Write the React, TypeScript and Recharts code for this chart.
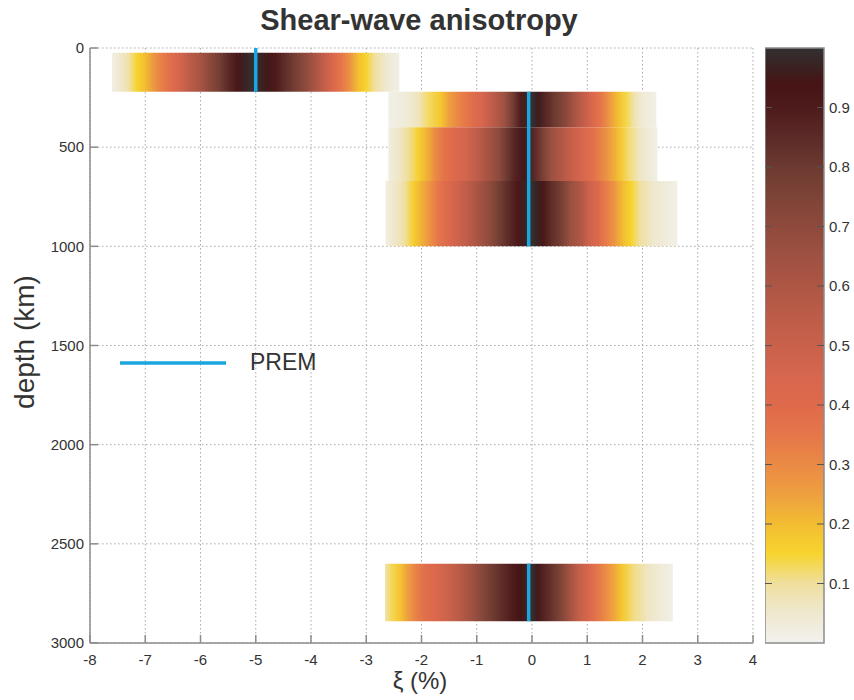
import { ComposedChart, Line, Bar, XAxis, YAxis, CartesianGrid, ReferenceArea, Legend } from "recharts";

// colour scale (value -> colour)
const cmapV = [0, 0.05, 0.1, 0.15, 0.2, 0.25, 0.3, 0.35, 0.4, 0.45, 0.5, 0.55, 0.6, 0.65, 0.7, 0.75, 0.8, 0.85, 0.9, 0.94, 0.97, 1.0];
const cmapC = ["#f2f1ed", "#efe8cf", "#efdf9e", "#f7d42e", "#f2bd32", "#ee9f3f", "#ea8a45", "#e5764a", "#df6a4b", "#d6664e", "#c9614b", "#bc5c48", "#ad5645", "#9e5141", "#8e4a3c", "#7d4337", "#6c3a31", "#5c2a27", "#4e1b1c", "#461415", "#3a2222", "#333031"];

// depth layers (km)
const layerTop = [24, 220, 400, 670, 2600];
const layerBottom = [220, 400, 670, 1000, 2890];

// xi (%) sample positions and probability per layer
const layer1Xi = [-7.6, -7.45, -7.3, -7.15, -7.0, -6.85, -6.7, -6.5, -6.35, -6.2, -6.0, -5.85, -5.65, -5.5, -5.35, -5.25, -5.05, -4.95, -4.8, -4.65, -4.5, -4.3, -4.1, -3.9, -3.75, -3.6, -3.45, -3.3, -3.15, -3.0, -2.85, -2.65, -2.4];
const layer1P = [0.02, 0.05, 0.09, 0.15, 0.2, 0.27, 0.33, 0.4, 0.47, 0.55, 0.62, 0.7, 0.78, 0.85, 0.91, 0.96, 1.0, 0.98, 0.95, 0.91, 0.85, 0.78, 0.7, 0.6, 0.52, 0.42, 0.35, 0.28, 0.2, 0.15, 0.1, 0.05, 0.01];

const layer2Xi = [-2.6, -2.3, -2.05, -1.85, -1.65, -1.5, -1.3, -1.1, -0.9, -0.7, -0.5, -0.35, -0.2, -0.08, 0.0, 0.12, 0.25, 0.4, 0.6, 0.8, 0.95, 1.1, 1.25, 1.4, 1.55, 1.7, 1.85, 2.0, 2.25];
const layer2P = [0.01, 0.03, 0.07, 0.13, 0.18, 0.25, 0.32, 0.38, 0.45, 0.55, 0.65, 0.78, 0.9, 0.97, 1.0, 0.96, 0.86, 0.8, 0.72, 0.6, 0.52, 0.42, 0.35, 0.27, 0.2, 0.14, 0.08, 0.04, 0.01];

const layer3Xi = [-2.6, -2.4, -2.25, -2.05, -1.9, -1.75, -1.6, -1.4, -1.2, -1.0, -0.8, -0.6, -0.45, -0.3, -0.15, -0.05, 0.05, 0.2, 0.35, 0.55, 0.75, 0.95, 1.1, 1.3, 1.45, 1.6, 1.75, 1.95, 2.27];
const layer3P = [0.02, 0.06, 0.1, 0.16, 0.22, 0.3, 0.36, 0.41, 0.46, 0.54, 0.62, 0.7, 0.8, 0.88, 0.95, 0.98, 0.85, 0.76, 0.66, 0.58, 0.5, 0.43, 0.38, 0.3, 0.24, 0.18, 0.12, 0.06, 0.01];

const layer4Xi = [-2.65, -2.45, -2.3, -2.15, -2.0, -1.85, -1.7, -1.5, -1.35, -1.15, -0.95, -0.75, -0.55, -0.4, -0.25, -0.12, 0.0, 0.1, 0.2, 0.35, 0.55, 0.7, 0.9, 1.05, 1.2, 1.35, 1.5, 1.65, 1.8, 1.95, 2.2, 2.63];
const layer4P = [0.02, 0.06, 0.1, 0.16, 0.22, 0.28, 0.35, 0.42, 0.48, 0.55, 0.63, 0.7, 0.8, 0.86, 0.92, 0.97, 1.0, 0.97, 0.92, 0.84, 0.76, 0.66, 0.58, 0.48, 0.41, 0.33, 0.27, 0.2, 0.15, 0.1, 0.05, 0.01];

const layer5Xi = [-2.66, -2.55, -2.4, -2.25, -2.1, -1.95, -1.75, -1.55, -1.35, -1.15, -0.95, -0.75, -0.55, -0.35, -0.2, -0.08, 0.0, 0.1, 0.25, 0.45, 0.65, 0.85, 1.05, 1.25, 1.45, 1.65, 1.85, 2.1, 2.55];
const layer5P = [0.08, 0.13, 0.18, 0.25, 0.32, 0.38, 0.42, 0.48, 0.55, 0.62, 0.7, 0.78, 0.84, 0.9, 0.94, 0.97, 1.0, 0.95, 0.86, 0.78, 0.66, 0.52, 0.42, 0.33, 0.25, 0.17, 0.11, 0.06, 0.01];

// PREM reference segments
const premXi = [-5, -0.06, -0.06];
const premTop = [0, 220, 2600];
const premBottom = [220, 1000, 2890];

const xTicks = [-8, -7, -6, -5, -4, -3, -2, -1, 0, 1, 2, 3, 4];
const yTicks = [0, 500, 1000, 1500, 2000, 2500, 3000];
const barTicks = [0.1, 0.2, 0.3, 0.4, 0.5, 0.6, 0.7, 0.8, 0.9];
const barData = [{ name: "scale", top: 1 }];

const PREM_COLOR = "#1ba6e0";
const AXIS = "#8c8c8c";
const FONT = "'Liberation Sans', Arial, sans-serif";
const tickStyle = { fill: "#333", fontSize: 15, fontFamily: FONT };

function hex(c: string) {
  return [1, 3, 5].map((i) => parseInt(c.slice(i, i + 2), 16));
}

function colorOf(v: number) {
  const t = Math.max(0, Math.min(1, v));
  let i = 0;
  while (i < cmapV.length - 2 && t > cmapV[i + 1]) i++;
  const f = (t - cmapV[i]) / (cmapV[i + 1] - cmapV[i]);
  const a = hex(cmapC[i]);
  const b = hex(cmapC[i + 1]);
  const rgb = a.map((x, k) => Math.round(x + (b[k] - x) * f));
  return `rgb(${rgb.join(",")})`;
}

const layerXi = [layer1Xi, layer2Xi, layer3Xi, layer4Xi, layer5Xi];
const layerP = [layer1P, layer2P, layer3P, layer4P, layer5P];

// bar spans the whole [0, 1] scale, so inner tick marks sit at fractions of its height
function ScaleBar(props: any) {
  const { x, y, width, height } = props;
  return (
    <g>
      <rect x={x} y={y} width={width} height={height} fill="url(#cbar)" stroke={AXIS} strokeWidth={1.5} />
      {barTicks.map((t) => {
        const ty = y + height * (1 - t);
        return (
          <g key={t}>
            <line x1={x} x2={x + 7} y1={ty} y2={ty} stroke="#555" />
            <line x1={x + width - 7} x2={x + width} y1={ty} y2={ty} stroke="#555" />
          </g>
        );
      })}
    </g>
  );
}

function ColorBar() {
  return (
    <ComposedChart width={89} height={700} data={barData} barCategoryGap={0} margin={{ top: 48, right: 0, bottom: 57, left: 0 }}>
      <defs>
        <linearGradient id="cbar" x1="0" y1="1" x2="0" y2="0">
          {cmapV.map((v, i) => (
            <stop key={i} offset={v} stopColor={cmapC[i]} />
          ))}
        </linearGradient>
      </defs>
      <XAxis dataKey="name" hide height={0} />
      <YAxis yAxisId="r" orientation="right" type="number" domain={[0, 1]} ticks={barTicks} width={30}
        axisLine={false} tickLine={false} tickSize={0} tickMargin={5} tick={tickStyle} />
      <Bar yAxisId="r" dataKey="top" shape={ScaleBar} isAnimationActive={false} />
    </ComposedChart>
  );
}

export default function App() {
  return (
    <div style={{ position: "absolute", left: 0, top: 0, width: 854, height: 700, background: "#fff", fontFamily: FONT }}>
      <div style={{ position: "absolute", left: 0, width: 838, top: 4, textAlign: "center", fontSize: 29, fontWeight: "bold", color: "#333" }}>
        Shear-wave anisotropy
      </div>
      <ComposedChart width={854} height={700} margin={{ top: 48, right: 101, bottom: 27, left: 30 }}>
        <defs>
          {layerXi.map((xs, li) => (
            <linearGradient key={li} id={`layer-${li}`} x1="0" y1="0" x2="1" y2="0">
              {xs.map((x, i) => (
                <stop key={i} offset={(x - xs[0]) / (xs[xs.length - 1] - xs[0])} stopColor={colorOf(layerP[li][i])} />
              ))}
            </linearGradient>
          ))}
        </defs>
        <CartesianGrid stroke="#aaa" strokeDasharray="1.5 2.5" />
        <XAxis type="number" dataKey="xi" domain={[-8, 4]} ticks={xTicks} height={30} allowDataOverflow
          stroke={AXIS} strokeWidth={1.5} tickSize={-8} tickMargin={19} tick={tickStyle} />
        <YAxis type="number" domain={[0, 3000]} ticks={yTicks} reversed width={60} allowDataOverflow
          stroke={AXIS} strokeWidth={1.5} tickSize={-8} tickMargin={14} tick={tickStyle} />
        {layerXi.map((xs, li) => (
          <ReferenceArea key={li} x1={xs[0]} x2={xs[xs.length - 1]} y1={layerTop[li]} y2={layerBottom[li]}
            fill={`url(#layer-${li})`} fillOpacity={1} />
        ))}
        {premXi.map((x, i) => (
          <Line key={i} name="PREM" data={[{ xi: x, depth: premTop[i] }, { xi: x, depth: premBottom[i] }]}
            dataKey="depth" stroke={PREM_COLOR} strokeWidth={3.5} dot={false} isAnimationActive={false} legendType="none" />
        ))}
        <Legend verticalAlign="middle" align="center" layout="horizontal"
          wrapperStyle={{ left: 120, top: 349, width: 240 }}
          content={() => (
            <div style={{ display: "flex", alignItems: "center" }}>
              <svg width={106} height={6}>
                <line x1={0} y1={3} x2={106} y2={3} stroke={PREM_COLOR} strokeWidth={3.5} />
              </svg>
              <span style={{ marginLeft: 24, fontSize: 23, color: "#333", fontFamily: FONT }}>PREM</span>
            </div>
          )} />
      </ComposedChart>
      <div style={{ position: "absolute", left: 765, top: 0 }}>
        <ColorBar />
      </div>
      <div style={{ position: "absolute", left: 25, top: 342, transform: "translate(-50%, -50%) rotate(-90deg)", whiteSpace: "nowrap", fontSize: 28, color: "#333" }}>
        depth (km)
      </div>
      <div style={{ position: "absolute", left: 420, top: 681, transform: "translate(-50%, -50%)", whiteSpace: "nowrap", fontSize: 24, color: "#333" }}>
        ξ (%)
      </div>
    </div>
  );
}
